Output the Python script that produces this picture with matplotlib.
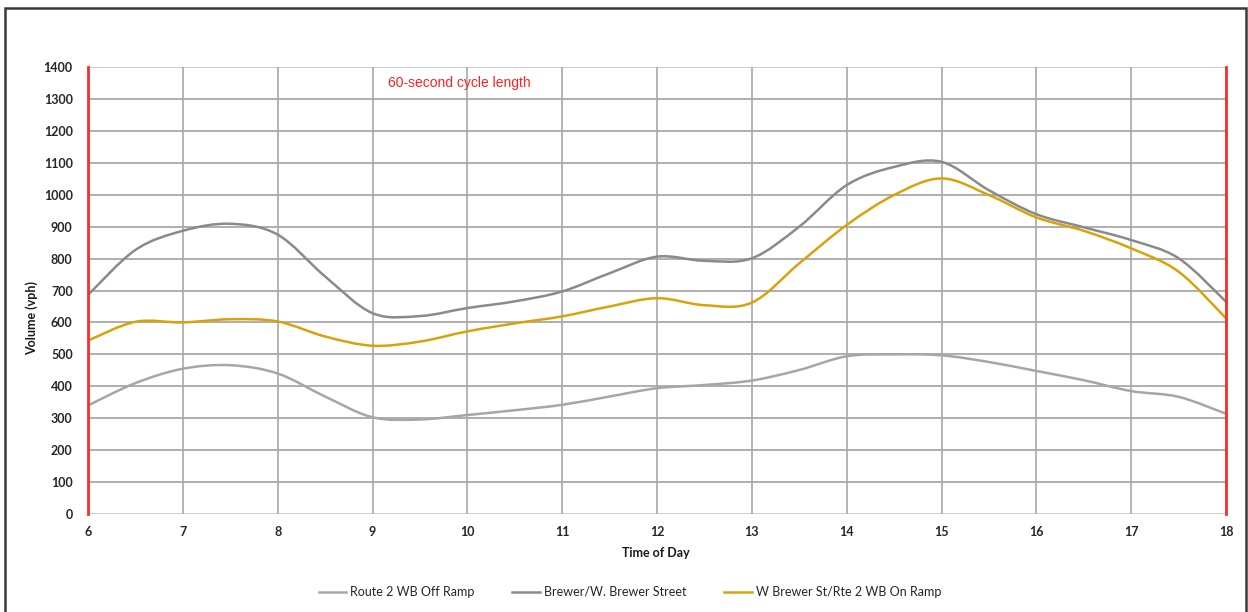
import matplotlib
matplotlib.use("Agg")
import matplotlib.pyplot as plt
from matplotlib.path import Path
from matplotlib.patches import PathPatch, Rectangle
from matplotlib.lines import Line2D
import numpy as np

# ---- data (half-hour readings) ----
hours = [6, 6.5, 7, 7.5, 8, 8.5, 9, 9.5, 10, 10.5, 11, 11.5, 12,
         12.5, 13, 13.5, 14, 14.5, 15, 15.5, 16, 16.5, 17, 17.5, 18]
off_ramp = [340, 410, 455, 466, 440, 368, 303, 296, 310, 325, 342, 368, 394,
            404, 418, 451, 494, 500, 497, 476, 448, 419, 385, 367, 314]
brewer = [686, 827, 887, 909, 875, 744, 629, 620, 645, 666, 697, 754, 806,
          793, 801, 900, 1030, 1087, 1103, 1014, 939, 898, 858, 801, 665]
on_ramp = [543, 602, 600, 610, 603, 556, 527, 540, 572, 597, 619, 650, 676,
           654, 662, 785, 905, 999, 1051, 999, 929, 887, 832, 759, 613]

series_names = ["Route 2 WB Off Ramp", "Brewer/W. Brewer Street",
                "W Brewer St/Rte 2 WB On Ramp"]
series_colors = ["#a6a6a6", "#8a8a8a", "#d9a20a"]
x_ticks = list(range(6, 19))
y_ticks = list(range(0, 1401, 100))
annotation = "60-second cycle length"
x_label = "Time of Day"
y_label = "Volume (vph)"

FONT = ["Lato", "DejaVu Sans"]


def smooth_path(xs, ys):
    """Catmull-Rom style smooth curve drawn as cubic Bezier segments (like Excel 'smoothed line')."""
    pts = np.column_stack([xs, ys]).astype(float)
    n = len(pts)
    verts = [pts[0]]
    codes = [Path.MOVETO]
    for i in range(n - 1):
        p0 = pts[i - 1] if i > 0 else pts[i]
        p1 = pts[i]
        p2 = pts[i + 1]
        p3 = pts[i + 2] if i + 2 < n else pts[i + 1]
        c1 = p1 + (p2 - p0) / 6.0
        c2 = p2 - (p3 - p1) / 6.0
        verts += [c1, c2, p2]
        codes += [Path.CURVE4] * 3
    return Path(verts, codes)


fig = plt.figure(figsize=(12.48, 6.12), dpi=100)
ax = fig.add_axes([88 / 1248, 1 - 514 / 612, (1226 - 88) / 1248, (514 - 67) / 612])

ax.set_xlim(6, 18)
ax.set_ylim(0, 1400)

# grid
for yv in y_ticks:
    col = "#c8c8c8" if yv in (0, 1400) else "#a8a8a8"
    ax.axhline(yv, color=col, lw=1.3, zorder=1)
for xv in x_ticks:
    ax.axvline(xv, color="#a8a8a8", lw=1.2, zorder=1)

# red boundary lines
ax.axvline(6, color="#ff2a2a", lw=2.0, zorder=4, clip_on=False)
ax.axvline(18, color="#ff2a2a", lw=2.0, zorder=4, clip_on=False)

# series
handles = []
for ys, name, col in zip([off_ramp, brewer, on_ramp], series_names, series_colors):
    patch = PathPatch(smooth_path(hours, ys), facecolor="none", edgecolor=col,
                      lw=1.8, zorder=3, capstyle="round", joinstyle="round")
    ax.add_patch(patch)
    handles.append(Line2D([], [], color=col, lw=1.8, label=name))

for s in ax.spines.values():
    s.set_visible(False)

ax.set_xticks(x_ticks)
ax.set_yticks(y_ticks)
ax.tick_params(length=0)
ax.tick_params(axis="y", pad=11)
ax.tick_params(axis="x", pad=9)
for lab in ax.get_xticklabels() + ax.get_yticklabels():
    lab.set_family(FONT)
    lab.set_fontsize(9)
    lab.set_fontweight("bold")
    lab.set_color("#262626")

ax.text(9.16, 1350, annotation, color="#ff2020", fontsize=10,
        family=["Liberation Sans", "DejaVu Sans"], ha="left", va="center", zorder=5)

fig.text(656 / 1248, 1 - 553 / 612, x_label, ha="center", va="center",
         fontsize=9, fontweight="bold", family=FONT, color="#1a1a1a")
fig.text(32 / 1248, 1 - 318 / 612, y_label, ha="center", va="center",
         rotation=90, fontsize=9, fontweight="bold", family=FONT, color="#1a1a1a")

leg = fig.legend(handles=handles, loc="center", ncol=3,
                 bbox_to_anchor=(630 / 1248, 1 - 592 / 612), frameon=False,
                 prop={"family": FONT, "size": 9}, handlelength=2.2,
                 handletextpad=0.35, columnspacing=3.0)
for t in leg.get_texts():
    t.set_color("#262626")

# outer frame
fig.patches.append(Rectangle((5 / 1248, -0.02), (1246 - 5) / 1248, 1.02 - 8 / 612,
                             transform=fig.transFigure, fill=False,
                             edgecolor="#3a3a3a", lw=1.8, zorder=10))

fig.savefig("out.png", dpi=100)
